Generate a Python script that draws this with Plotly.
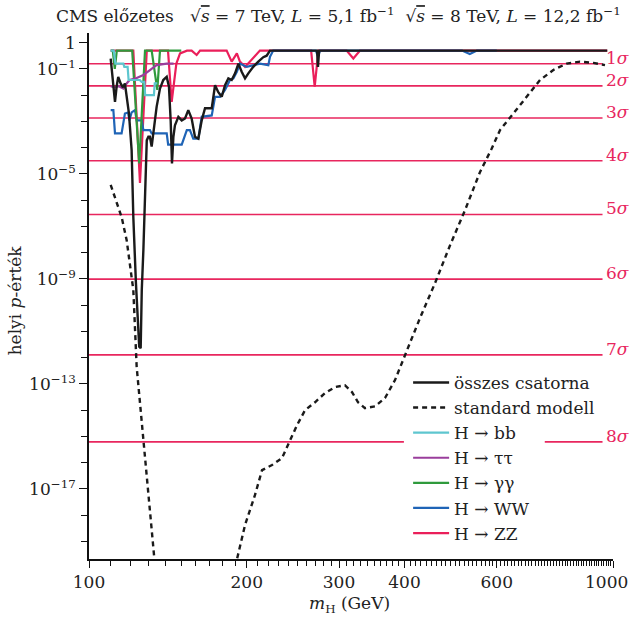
import math
import plotly.graph_objects as go

# ---------------- data ----------------
all_mass = [110, 112.1, 112.9, 113.7, 114.9, 116.1, 117.1, 118.0, 119.2, 120.6, 121.5, 122.9, 123.9, 124.7,
            125.5, 126.1, 127.0, 128.1, 128.9, 129.8, 130.7, 131.7, 134.6, 136.6, 138.6, 140.7, 142.1, 143.2,
            144.0, 144.9, 145.9, 148.1, 150.3, 152.5, 154.7, 157.0, 159.3, 161.7, 164.1, 166.5, 171.5, 174.0,
            176.5, 179.2, 181.8, 184.5, 187.2, 190.0, 192.8, 195.6, 198.5, 201.4, 205.8, 210.4, 215.1, 218.3,
            221.5, 272.5, 273.5, 274.9, 975]
all_p = [0.25, 0.0056, 0.021, 0.050, 0.028, 0.020, 0.028, 0.0087, 0.002, 8.1e-5, 2.3e-7, 6.9e-10, 3.6e-11, 2.6e-12,
         2.3e-12, 3.8e-10, 1.3e-8, 4.5e-6, 1.9e-4, 2.6e-4, 2.6e-4, 1.1e-4, 0.0036, 0.018, 0.038, 0.050, 0.021, 0.001,
         2.5e-5, 2.6e-4, 7.2e-4, 0.0015, 0.0011, 0.0013, 0.0027, 0.0013, 2.6e-4, 2.2e-4, 0.0011, 0.0032, 0.0032, 0.024,
         0.013, 0.0087, 0.024, 0.044, 0.038, 0.068, 0.16, 0.078, 0.044, 0.068, 0.12, 0.19, 0.28, 0.32,
         0.5, 0.5, 0.12, 0.5, 0.5]

sm_mass = [110, 112.1, 115.4, 118.0, 119.8, 121.5, 123.3, 129.0, 135.5, 188.0, 191.6, 198.5, 207.4, 213.9, 223.5,
           233.5, 241.8, 249.5, 258.4, 270.0, 282.1, 294.8, 307.9, 317.6, 326.1, 336.3, 351.4, 367.2, 383.7, 400.9,
           428.1, 457.4, 488.6, 522.0, 557.6, 586.9, 608.7, 645.3, 684.5, 725.6, 769.3, 815.8, 865.0, 917.3, 965.4]
sm_p = [3.8e-6, 1.35e-6, 2.3e-7, 3.0e-8, 2.9e-9, 3.8e-10, 4.5e-13, 2e-17, 6e-22, 1e-22, 2.1e-20, 4.2e-19, 5.9e-18,
        5.2e-17, 8.1e-17, 1.5e-16, 7.2e-16, 2.7e-15, 1.0e-14, 2.0e-14, 4.5e-14, 7.6e-14, 8.9e-14, 4.9e-14, 2.0e-14,
        1.2e-14, 1.4e-14, 2.9e-14, 1.4e-13, 1.3e-12, 3.2e-11, 6.9e-10, 1.9e-8, 4.2e-7, 1.2e-5, 9.3e-5, 4.7e-4,
        2.0e-3, 8.7e-3, 0.038, 0.091, 0.16, 0.19, 0.17, 0.14]

bb_mass = [110, 111.5, 112.3, 116.3, 116.8, 118.5, 119.0, 125.0, 126.0, 127.5, 128.0, 133.0, 133.5, 135.0]
bb_p = [0.5, 0.5, 0.16, 0.16, 0.12, 0.12, 0.038, 0.038, 0.032, 0.032, 0.01, 0.01, 0.028, 0.028]

tt_mass = [110, 112, 114, 116.3, 118, 119.5, 123, 127, 130.7, 134.6, 140.7, 145]
tt_p = [0.022, 0.020, 0.022, 0.018, 0.028, 0.038, 0.044, 0.059, 0.091, 0.14, 0.16, 0.16]

gg_mass = [110, 111, 112, 113, 120.9, 124.7, 127.9, 131.7, 135.0, 136.6, 150]
gg_p = [0.5, 0.5, 0.1, 0.5, 0.5, 2.5e-5, 0.5, 0.5, 0.016, 0.5, 0.5]

ww_mass = [110, 111.3, 112.1, 115.4, 117.1, 118.8, 119.4, 120.6, 122.4, 123.3, 126.1, 127.0, 130.7, 131.7,
           140.7, 141.6, 150.3, 151.3, 153.7, 155.8, 158.1, 161.7, 164.1, 171.5, 174.0, 177.8, 181.8, 185.8,
           188.6, 191.5, 194.1, 200.0, 206.0, 211.9, 219.9, 221.5, 224.7, 271, 273.5, 276, 515, 533, 550, 600]
ww_p = [0.0027, 0.0027, 3.5e-4, 3.5e-4, 0.002, 0.0022, 0.0011, 0.0022, 0.0027, 0.0011, 0.0011, 4.7e-4, 4.7e-4,
        3.5e-4, 3.5e-4, 1.3e-4, 1.3e-4, 1.9e-4, 4.7e-4, 4.7e-4, 2.2e-4, 2.2e-4, 0.0015, 0.0017, 0.0087, 0.0087,
        0.016, 0.038, 0.044, 0.078, 0.16, 0.12, 0.14, 0.16, 0.14, 0.29, 0.5, 0.5, 0.3, 0.5, 0.5, 0.37, 0.5, 0.5]

zz_mass = [110, 121.5, 125.1, 128.9, 141.5, 143.8, 146.8, 149.2, 153.8, 157.0, 160.5, 162.9, 183.1, 187.2,
           191.5, 194.1, 198.5, 202.7, 209.0, 211.9, 265.4, 269.6, 274.0, 310.2, 319.5, 329.0, 975]
zz_p = [0.5, 0.5, 4.5e-6, 0.5, 0.5, 0.0056, 0.16, 0.39, 0.5, 0.5, 0.34, 0.5, 0.5, 0.19,
        0.39, 0.19, 0.12, 0.19, 0.39, 0.5, 0.5, 0.021, 0.5, 0.5, 0.25, 0.5, 0.5]

sigma_levels = [1, 2, 3, 4, 5, 6, 7, 8]
sigma_p = [0.158655, 0.0227501, 0.0013499, 3.16712e-5, 2.86652e-7, 9.86588e-10, 1.27981e-12, 6.22096e-16]

x_major = [100, 200, 300, 400, 600, 1000]
x_major_text = ["100", "200", "300", "400", "600", ""]   # "1000" is placed flush with the right edge below
x_last_label = "1000"
x_minor = list(range(110, 1000, 10))
y_major = [1, 1e-1, 1e-5, 1e-9, 1e-13, 1e-17]
y_major_text = ["1", "10<sup>−1</sup>", "10<sup>−5</sup>", "10<sup>−9</sup>", "10<sup>−13</sup>", "10<sup>−17</sup>"]
y_minor = [10.0 ** (-k) for k in range(0, 20)]

# ---------------- styling ----------------
FONT = "DejaVu Serif"
TXT = "#222222"
SIG_COL = "#e8265e"
C_BLACK = "#1a1a1a"
C_BB = "#5ec6cf"
C_TT = "#9a3e9c"
C_GG = "#2f9a3c"
C_WW = "#1f64b6"
C_ZZ = "#ea1f5a"

fig = go.Figure()

# sigma reference lines (8 sigma line interrupted where the legend sits)
line_x0, line_x1 = 100, 955
gap_x0, gap_x1 = 399, 741
for s, p in zip(sigma_levels, sigma_p):
    if s == 8:
        xs = [line_x0, gap_x0, None, gap_x1, line_x1]
        ys = [p, p, None, p, p]
    else:
        xs = [line_x0, line_x1]
        ys = [p, p]
    fig.add_trace(go.Scatter(x=xs, y=ys, mode="lines", line=dict(color=SIG_COL, width=1.6),
                             showlegend=False, hoverinfo="skip"))
    fig.add_annotation(x=0.983, xref="paper", y=math.log10(p), yref="y", yshift=6,
                       text=f"{s}<i>σ</i>", showarrow=False, xanchor="left", yanchor="middle",
                       font=dict(family=FONT, size=17, color=SIG_COL))

channels = [
    ("H → ZZ", zz_mass, zz_p, C_ZZ, 7),
    ("H → WW", ww_mass, ww_p, C_WW, 6),
    ("H → γγ", gg_mass, gg_p, C_GG, 5),
    ("H → ττ", tt_mass, tt_p, C_TT, 4),
    ("H → bb", bb_mass, bb_p, C_BB, 3),
]
for name, mx, py, col, rank in channels:
    fig.add_trace(go.Scatter(x=mx, y=py, mode="lines", name=name, legendrank=rank,
                             line=dict(color=col, width=2.2)))

fig.add_trace(go.Scatter(x=all_mass, y=all_p, mode="lines", name="összes csatorna", legendrank=1,
                         line=dict(color=C_BLACK, width=2.4)))
fig.add_trace(go.Scatter(x=sm_mass, y=sm_p, mode="lines", name="standard modell", legendrank=2,
                         line=dict(color=C_BLACK, width=2.4, dash="5px,4px")))

fig.update_layout(
    width=630, height=621,
    margin=dict(l=89, r=17, t=33, b=62, autoexpand=False),
    paper_bgcolor="white", plot_bgcolor="white",
    font=dict(family=FONT, size=17, color=TXT),
    legend=dict(x=0.609, y=0.369, xanchor="left", yanchor="top", bgcolor="rgba(0,0,0,0)",
                font=dict(family=FONT, size=17, color=TXT), tracegroupgap=0, itemwidth=36),
    showlegend=True,
)
fig.update_xaxes(type="log", range=[2, 3], showline=True, linecolor="#111", linewidth=1.5, automargin=False,
                 showgrid=False, zeroline=False, ticks="outside", ticklen=7, tickwidth=1.3, tickcolor="#111",
                 tickmode="array", tickvals=x_major, ticktext=x_major_text,
                 minor=dict(tickmode="array", tickvals=x_minor, ticks="outside",
                            ticklen=5, tickwidth=1.1, tickcolor="#111"))
fig.update_yaxes(type="log", range=[-19.67, 0.37], showline=True, linecolor="#111", linewidth=1.5, automargin=False,
                 showgrid=False, zeroline=False, ticks="outside", ticklen=8, tickwidth=1.3, tickcolor="#111",
                 tickmode="array", tickvals=y_major, ticktext=y_major_text,
                 minor=dict(tickmode="array", tickvals=y_minor, ticks="outside",
                            ticklen=6, tickwidth=1.1, tickcolor="#111"))

# "1000" tick label, kept inside the page
fig.add_annotation(xref="paper", yref="paper", x=1.032, y=-0.044, xanchor="right", yanchor="middle",
                   showarrow=False, text=x_last_label, font=dict(family=FONT, size=17, color=TXT))

fig.add_annotation(xref="paper", yref="paper", x=-0.066, y=1.034, xanchor="left", yanchor="middle",
                   showarrow=False,
                   text="CMS előzetes   √<span style='text-decoration:overline'><i>s</i></span> = 7 TeV, <i>L</i> = 5,1 fb<sup>−1</sup>  "
                        "√<span style='text-decoration:overline'><i>s</i></span> = 8 TeV, <i>L</i> = 12,2 fb<sup>−1</sup>",
                   font=dict(family=FONT, size=17, color=TXT))
fig.add_annotation(xref="paper", yref="paper", x=-0.141, y=0.492, textangle=-90, showarrow=False,
                   xanchor="center", yanchor="middle",
                   text="helyi <i>p</i>-érték", font=dict(family=FONT, size=17, color=TXT))
fig.add_annotation(xref="paper", yref="paper", x=0.498, y=-0.087, showarrow=False,
                   xanchor="center", yanchor="middle",
                   text="<i>m</i><sub>H</sub> (GeV)", font=dict(family=FONT, size=17, color=TXT))

fig.write_html("out.html", config={"displayModeBar": False},
               post_script="document.body.style.margin='0';document.body.style.padding='0';")
